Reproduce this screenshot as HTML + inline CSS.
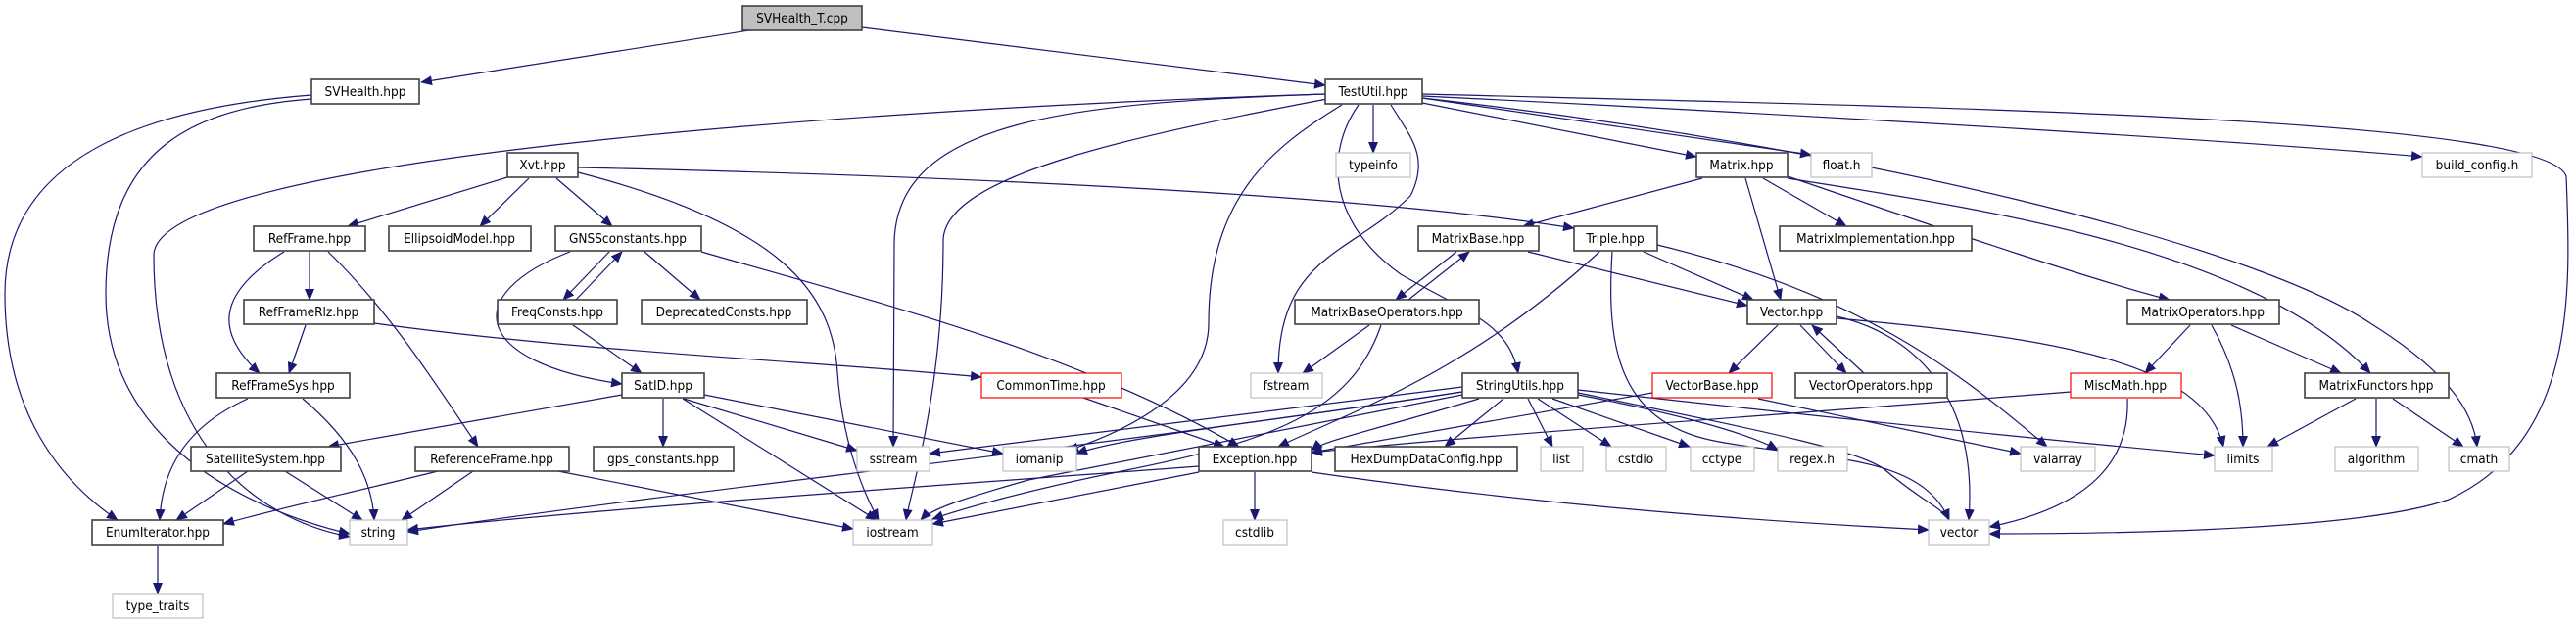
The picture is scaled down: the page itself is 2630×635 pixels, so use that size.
<!DOCTYPE html>
<html><head><meta charset="utf-8"><style>
html,body{margin:0;padding:0;background:#fff;}
svg{display:block;}
text{font-family:"DejaVu Sans Condensed","DejaVu Sans","Liberation Sans Narrow","Liberation Sans",sans-serif;font-size:13.5px;fill:#000;text-anchor:middle;}
.n rect{fill:#fff;stroke:#404040;stroke-width:1.6;}
.g rect{fill:#fff;stroke:#bfbfbf;stroke-width:1.2;}
.r rect{fill:#fff;stroke:#ff0000;stroke-width:1.2;}
.e path{fill:none;stroke:#191970;stroke-width:1.2;marker-end:url(#a);}
</style></head><body>
<svg width="2630" height="635" viewBox="0 0 2630 635" xmlns="http://www.w3.org/2000/svg">
<defs><marker id="a" markerUnits="userSpaceOnUse" markerWidth="12" markerHeight="10" refX="11" refY="5" orient="auto"><path d="M0,0 L12,5 L0,10 z" fill="#191970"/></marker></defs>
<g class="e">
<path d="M765,31 L430,84"/>
<path d="M880,28 L1353,87"/>
<path d="M318,97 C150,110 5,160 5,300 C5,420 60,490 120,531"/>
<path d="M318,101 C200,110 108,150 108,300 C108,450 250,520 357,545"/>
<path d="M1353,96 C900,110 160,160 157,260 C157,450 260,530 357,548"/>
<path d="M1452,96 C2000,110 2600,120 2620,180 C2625,300 2630,450 2500,510 C2400,545 2100,545 2031,545"/>
<path d="M1452,100 C1900,150 2300,250 2420,330 C2500,380 2525,420 2529,456"/>
<path d="M1452,98 C1900,120 2300,145 2473,160"/>
<path d="M1452,100 L1849,158"/>
<path d="M1452,105 L1732,160"/>
<path d="M1825,182 C2000,210 2300,250 2420,381"/>
<path d="M1402,107 L1402,156"/>
<path d="M1353,96 C1100,105 913,120 913,250 L912,456"/>
<path d="M1355,101 C1150,140 965,180 963,245 C963,400 930,500 925,531"/>
<path d="M1370,107 C1300,150 1234,200 1234,330 C1234,400 1150,440 1090,460"/>
<path d="M1420,107 C1440,140 1460,160 1440,200 C1380,260 1305,260 1305,381"/>
<path d="M1387,107 C1350,160 1360,230 1430,280 C1500,320 1540,330 1550,381"/>
<path d="M1738,182 L1555,231"/>
<path d="M1782,182 L1818,306"/>
<path d="M1800,182 L1885,231"/>
<path d="M1825,180 C2000,240 2150,290 2215,306"/>
<path d="M590,171 C1000,180 1400,200 1607,233"/>
<path d="M518,181 L355,231"/>
<path d="M540,182 L490,231"/>
<path d="M568,182 L625,231"/>
<path d="M590,176 C800,230 850,300 855,380 C860,450 880,500 897,531"/>
<path d="M316,257 L316,306"/>
<path d="M290,257 C220,300 220,340 265,381"/>
<path d="M335,257 C400,320 450,400 488,456"/>
<path d="M312,332 L295,381"/>
<path d="M382,330 C600,360 850,370 1002,385"/>
<path d="M622,257 L575,306"/>
<path d="M588,306 L635,257"/>
<path d="M658,257 L715,306"/>
<path d="M582,257 C470,300 480,370 635,392"/>
<path d="M716,257 C900,310 1100,360 1265,456"/>
<path d="M585,332 L655,381"/>
<path d="M253,407 C180,440 165,490 163,531"/>
<path d="M309,407 C360,450 380,490 382,531"/>
<path d="M635,403 L335,456"/>
<path d="M677,407 L677,456"/>
<path d="M698,407 L875,460"/>
<path d="M719,403 L1024,463"/>
<path d="M697,407 L895,531"/>
<path d="M253,481 L180,531"/>
<path d="M291,481 L370,531"/>
<path d="M447,481 C350,505 280,520 228,535"/>
<path d="M483,481 L410,531"/>
<path d="M570,481 L871,540"/>
<path d="M161,557 L161,606"/>
<path d="M1106,406 L1250,456"/>
<path d="M1224,476 C900,500 600,520 416,541"/>
<path d="M1224,482 L952,535"/>
<path d="M1281,482 L1281,531"/>
<path d="M1339,482 C1600,520 1850,535 1969,541"/>
<path d="M1510,407 C1400,440 1350,450 1339,460"/>
<path d="M1535,407 L1475,456"/>
<path d="M1560,407 L1585,456"/>
<path d="M1570,407 L1645,456"/>
<path d="M1585,407 L1725,456"/>
<path d="M1611,403 C1700,420 1780,440 1815,459"/>
<path d="M1611,398 C1900,430 2100,450 2261,465"/>
<path d="M1611,401 C1800,440 1900,460 1925,480 C1960,510 1985,520 1990,531"/>
<path d="M1493,395 L949,463"/>
<path d="M1493,400 C1300,430 1150,445 1099,463"/>
<path d="M1493,403 C1250,450 1150,470 1050,490 C980,510 950,520 940,531"/>
<path d="M1493,400 C1100,460 700,500 416,543"/>
<path d="M1487,257 L1425,306"/>
<path d="M1438,306 L1500,257"/>
<path d="M1560,257 L1784,312"/>
<path d="M1398,332 L1330,381"/>
<path d="M1410,332 C1380,420 1300,450 1150,480 C1050,500 980,520 952,530"/>
<path d="M1678,257 L1790,306"/>
<path d="M1633,257 C1500,380 1380,420 1305,456"/>
<path d="M1692,250 C1900,300 2000,380 2090,456"/>
<path d="M1646,257 C1640,350 1650,430 1750,450 C1850,470 1960,460 1990,531"/>
<path d="M1815,332 L1765,381"/>
<path d="M1838,332 L1885,381"/>
<path d="M1903,381 L1850,332"/>
<path d="M1875,323 C1950,340 2020,400 2010,531"/>
<path d="M1875,325 C2100,345 2250,370 2270,456"/>
<path d="M1795,407 L2063,463"/>
<path d="M1687,401 L1339,462"/>
<path d="M2236,332 L2190,381"/>
<path d="M2258,332 C2285,380 2290,420 2290,456"/>
<path d="M2278,332 L2390,381"/>
<path d="M2114,400 C1800,425 1500,445 1339,462"/>
<path d="M2172,407 C2175,480 2120,520 2031,538"/>
<path d="M2405,407 L2315,456"/>
<path d="M2426,407 L2426,456"/>
<path d="M2443,407 L2515,456"/>
</g>
<g class="n"><rect x="758" y="6" width="122" height="25" style="fill:#bfbfbf"/><text x="819" y="23">SVHealth_T.cpp</text></g>
<g class="n"><rect x="318" y="81" width="110" height="25"/><text x="373" y="98">SVHealth.hpp</text></g>
<g class="n"><rect x="1353" y="81" width="99" height="25"/><text x="1402" y="98">TestUtil.hpp</text></g>
<g class="n"><rect x="518" y="156" width="72" height="25"/><text x="554" y="173">Xvt.hpp</text></g>
<g class="g"><rect x="1364" y="156" width="76" height="25"/><text x="1402" y="173">typeinfo</text></g>
<g class="n"><rect x="1732" y="156" width="93" height="25"/><text x="1778" y="173">Matrix.hpp</text></g>
<g class="g"><rect x="1849" y="156" width="62" height="25"/><text x="1880" y="173">float.h</text></g>
<g class="g"><rect x="2473" y="156" width="112" height="25"/><text x="2529" y="173">build_config.h</text></g>
<g class="n"><rect x="259" y="231" width="114" height="25"/><text x="316" y="248">RefFrame.hpp</text></g>
<g class="n"><rect x="397" y="231" width="145" height="25"/><text x="469" y="248">EllipsoidModel.hpp</text></g>
<g class="n"><rect x="567" y="231" width="149" height="25"/><text x="641" y="248">GNSSconstants.hpp</text></g>
<g class="n"><rect x="1448" y="231" width="123" height="25"/><text x="1509" y="248">MatrixBase.hpp</text></g>
<g class="n"><rect x="1607" y="231" width="85" height="25"/><text x="1649" y="248">Triple.hpp</text></g>
<g class="n"><rect x="1817" y="231" width="196" height="25"/><text x="1915" y="248">MatrixImplementation.hpp</text></g>
<g class="n"><rect x="249" y="306" width="133" height="25"/><text x="315" y="323">RefFrameRlz.hpp</text></g>
<g class="n"><rect x="508" y="306" width="122" height="25"/><text x="569" y="323">FreqConsts.hpp</text></g>
<g class="n"><rect x="655" y="306" width="169" height="25"/><text x="739" y="323">DeprecatedConsts.hpp</text></g>
<g class="n"><rect x="1322" y="306" width="188" height="25"/><text x="1416" y="323">MatrixBaseOperators.hpp</text></g>
<g class="n"><rect x="1784" y="306" width="91" height="25"/><text x="1829" y="323">Vector.hpp</text></g>
<g class="n"><rect x="2172" y="306" width="155" height="25"/><text x="2249" y="323">MatrixOperators.hpp</text></g>
<g class="n"><rect x="221" y="381" width="136" height="25"/><text x="289" y="398">RefFrameSys.hpp</text></g>
<g class="n"><rect x="635" y="381" width="84" height="25"/><text x="677" y="398">SatID.hpp</text></g>
<g class="r"><rect x="1002" y="381" width="143" height="25"/><text x="1073" y="398">CommonTime.hpp</text></g>
<g class="g"><rect x="1277" y="381" width="73" height="25"/><text x="1313" y="398">fstream</text></g>
<g class="n"><rect x="1493" y="381" width="118" height="25"/><text x="1552" y="398">StringUtils.hpp</text></g>
<g class="r"><rect x="1687" y="381" width="122" height="25"/><text x="1748" y="398">VectorBase.hpp</text></g>
<g class="n"><rect x="1833" y="381" width="155" height="25"/><text x="1910" y="398">VectorOperators.hpp</text></g>
<g class="r"><rect x="2114" y="381" width="113" height="25"/><text x="2170" y="398">MiscMath.hpp</text></g>
<g class="n"><rect x="2353" y="381" width="147" height="25"/><text x="2426" y="398">MatrixFunctors.hpp</text></g>
<g class="n"><rect x="195" y="456" width="153" height="25"/><text x="271" y="473">SatelliteSystem.hpp</text></g>
<g class="n"><rect x="424" y="456" width="157" height="25"/><text x="502" y="473">ReferenceFrame.hpp</text></g>
<g class="n"><rect x="606" y="456" width="143" height="25"/><text x="677" y="473">gps_constants.hpp</text></g>
<g class="g"><rect x="875" y="456" width="74" height="25"/><text x="912" y="473">sstream</text></g>
<g class="g"><rect x="1024" y="456" width="75" height="25"/><text x="1061" y="473">iomanip</text></g>
<g class="n"><rect x="1224" y="456" width="115" height="25"/><text x="1281" y="473">Exception.hpp</text></g>
<g class="n"><rect x="1363" y="456" width="186" height="25"/><text x="1456" y="473">HexDumpDataConfig.hpp</text></g>
<g class="g"><rect x="1573" y="456" width="43" height="25"/><text x="1594" y="473">list</text></g>
<g class="g"><rect x="1640" y="456" width="61" height="25"/><text x="1670" y="473">cstdio</text></g>
<g class="g"><rect x="1726" y="456" width="65" height="25"/><text x="1758" y="473">cctype</text></g>
<g class="g"><rect x="1815" y="456" width="71" height="25"/><text x="1850" y="473">regex.h</text></g>
<g class="g"><rect x="2063" y="456" width="76" height="25"/><text x="2101" y="473">valarray</text></g>
<g class="g"><rect x="2261" y="456" width="59" height="25"/><text x="2290" y="473">limits</text></g>
<g class="g"><rect x="2384" y="456" width="85" height="25"/><text x="2426" y="473">algorithm</text></g>
<g class="g"><rect x="2500" y="456" width="62" height="25"/><text x="2531" y="473">cmath</text></g>
<g class="n"><rect x="94" y="531" width="134" height="25"/><text x="161" y="548">EnumIterator.hpp</text></g>
<g class="g"><rect x="357" y="531" width="59" height="25"/><text x="386" y="548">string</text></g>
<g class="g"><rect x="871" y="531" width="81" height="25"/><text x="911" y="548">iostream</text></g>
<g class="g"><rect x="1249" y="531" width="65" height="25"/><text x="1281" y="548">cstdlib</text></g>
<g class="g"><rect x="1969" y="531" width="62" height="25"/><text x="2000" y="548">vector</text></g>
<g class="g"><rect x="115" y="606" width="92" height="25"/><text x="161" y="623">type_traits</text></g>
</svg>
</body></html>
